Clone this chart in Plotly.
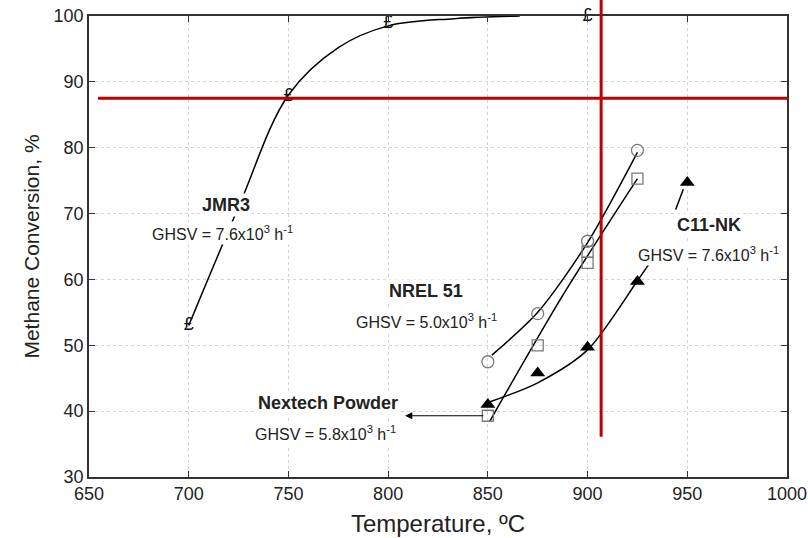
import plotly.graph_objects as go

# ---------------- data ----------------
# JMR3 (GHSV = 7.6x10^3 h^-1) measured points
jmr3_T = [700, 750, 800, 900]
jmr3_X = [53.0, 87.8, 98.9, 100.0]
# JMR3 fitted curve
jmr3_fit_T = [700, 725, 750, 775, 800, 833, 866]
jmr3_fit_X = [53.0, 71.0, 88.0, 95.2, 98.5, 99.6, 100.0]

# NREL 51 (open circles)
nrel_T = [850, 875, 900, 925]
nrel_X = [47.5, 54.8, 65.8, 79.6]
nrel_fit_T = [852, 875, 900, 925]
nrel_fit_X = [48.5, 55.0, 65.6, 79.3]

# Nextech Powder (open squares)
nextech_T = [850, 875, 900, 900, 925]
nextech_X = [39.3, 50.0, 64.2, 62.5, 75.3]
nextech_fit_T = [851, 888, 925]
nextech_fit_X = [38.5, 57.8, 75.3]

# C11-NK (filled triangles)
c11_T = [850, 875, 900, 925, 950]
c11_X = [41.0, 45.8, 49.7, 59.7, 74.7]
c11_fit_T = [850, 875, 900, 925, 935]
c11_fit_X = [41.3, 44.3, 49.3, 59.8, 64.2]

# red reference lines
red_h_value = 87.5
red_h_T = [654.5, 1000]
red_v_value = 906.8
red_v_X = [36.1, 103.0]

x_range = [650, 1000]
y_range = [30, 100]
x_ticks = [650, 700, 750, 800, 850, 900, 950, 1000]
y_ticks = [30, 40, 50, 60, 70, 80, 90, 100]

FONT = "Liberation Sans, Arial, sans-serif"
TXT = "#222222"
GRAY = "#7a7a7a"

fig = go.Figure()

def curve(tx, ty, smoothing):
    fig.add_trace(go.Scatter(x=tx, y=ty, mode="lines",
                             line=dict(color="black", width=1.5, shape="spline",
                                       smoothing=smoothing),
                             hoverinfo="skip", showlegend=False))

curve(jmr3_fit_T, jmr3_fit_X, 1.0)
curve(nrel_fit_T, nrel_fit_X, 0.8)
curve(nextech_fit_T, nextech_fit_X, 0.8)
curve(c11_fit_T, c11_fit_X, 0.8)

fig.add_trace(go.Scatter(x=jmr3_T, y=jmr3_X, mode="text", text=["£"] * len(jmr3_T),
                         textposition="middle center",
                         textfont=dict(family=FONT, size=18, color="#111111"),
                         cliponaxis=False, showlegend=False))
fig.add_trace(go.Scatter(x=nrel_T, y=nrel_X, mode="markers",
                         marker=dict(symbol="circle-open", size=12, color=GRAY,
                                     line=dict(color=GRAY, width=1.3)),
                         cliponaxis=False, showlegend=False))
fig.add_trace(go.Scatter(x=nextech_T, y=nextech_X, mode="markers",
                         marker=dict(symbol="square-open", size=11, color=GRAY,
                                     line=dict(color=GRAY, width=1.3)),
                         cliponaxis=False, showlegend=False))
fig.add_trace(go.Scatter(x=c11_T, y=c11_X, mode="markers",
                         marker=dict(symbol="triangle-up", size=13, color="black"),
                         cliponaxis=False, showlegend=False))

# red lines
def to_paper(v):
    return (v - y_range[0]) / (y_range[1] - y_range[0])

fig.add_shape(type="line", xref="x", yref="y", x0=red_h_T[0], x1=red_h_T[1],
              y0=red_h_value, y1=red_h_value, line=dict(color="#c00000", width=3),
              layer="above")
fig.add_shape(type="line", xref="x", yref="paper", x0=red_v_value, x1=red_v_value,
              y0=to_paper(red_v_X[0]), y1=to_paper(red_v_X[1]),
              line=dict(color="#c00000", width=3), layer="above")

# labels
def label(x, y, text, size, bold=False):
    fig.add_annotation(x=x, y=y, xref="x", yref="y", text=f"<b>{text}</b>" if bold else text,
                       showarrow=False, bgcolor="white", borderpad=1,
                       font=dict(family=FONT, size=size, color=TXT))

ghsv76 = "GHSV = 7.6x10<sup>3</sup> h<sup>-1</sup>"
label(718.7, 71.3, "JMR3", 18, True)
label(716.7, 67.0, ghsv76, 16)
label(819.0, 58.2, "NREL 51", 18, True)
label(819.0, 53.7, "GHSV = 5.0x10<sup>3</sup> h<sup>-1</sup>", 16)
label(769.9, 41.2, "Nextech Powder", 18, True)
label(768.4, 36.7, "GHSV = 5.8x10<sup>3</sup> h<sup>-1</sup>", 16)
label(960.9, 68.3, "C11-NK", 18, True)
label(960.4, 63.9, ghsv76, 16)

# arrows
fig.add_annotation(x=808.5, y=nextech_X[0], ax=848.5, ay=nextech_X[0], xref="x", yref="y",
                   axref="x", ayref="y", text="", showarrow=True, arrowhead=2,
                   arrowsize=1.3, arrowwidth=1.1, arrowcolor="black")
fig.add_annotation(x=948.0, y=73.7, ax=943.9, ay=70.4, xref="x", yref="y",
                   axref="x", ayref="y", text="", showarrow=True, arrowhead=0,
                   arrowwidth=1.5, arrowcolor="black")

axis_common = dict(showline=True, linecolor="#333333", linewidth=1.5, mirror="ticks",
                   ticks="inside", ticklen=6, tickwidth=1.3, tickcolor="#333333",
                   showgrid=True, gridcolor="#d4d4d4", griddash="dot", gridwidth=1,
                   zeroline=False, automargin=False,
                   tickfont=dict(family=FONT, size=18, color=TXT))

fig.update_xaxes(range=x_range, tickvals=x_ticks, **axis_common,
                 title=dict(text="Temperature, ºC", font=dict(family=FONT, size=24, color=TXT),
                            standoff=12))
fig.update_yaxes(range=y_range, tickvals=y_ticks, **axis_common,
                 title=dict(text="Methane Conversion, %", font=dict(family=FONT, size=21, color=TXT),
                            standoff=8))

fig.update_layout(width=808, height=538, margin=dict(l=89, r=21, t=16, b=61, autoexpand=False),
                  plot_bgcolor="white", paper_bgcolor="white", showlegend=False)

fig.write_html("out.html")
